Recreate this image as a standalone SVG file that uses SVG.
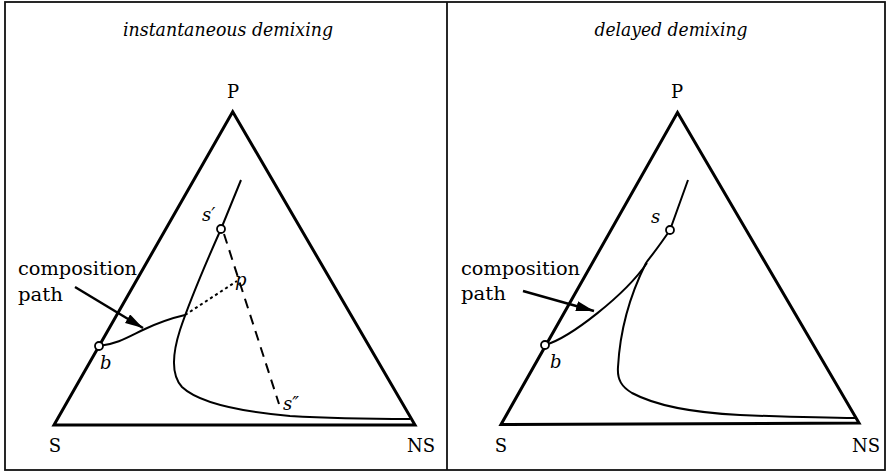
<svg xmlns="http://www.w3.org/2000/svg" width="887" height="473" viewBox="0 0 887 473">
<style>
.frame{fill:none;stroke:#111;stroke-width:1.8}
.tri{fill:none;stroke:#000;stroke-width:3;stroke-linejoin:miter}
.curve{fill:none;stroke:#000;stroke-width:2}
.pt{fill:#fff;stroke:#000;stroke-width:1.8}
.lab{font-family:"DejaVu Serif","Liberation Serif",serif;font-size:18px;fill:#000}
.it{font-family:"DejaVu Serif","Liberation Serif",serif;font-style:italic;font-size:18px;fill:#000}
.title{font-family:"DejaVu Serif","Liberation Serif",serif;font-style:italic;font-size:18px;fill:#000}
.arrow{fill:none;stroke:#000;stroke-width:2.5}
</style>
<defs>
<marker id="ah" markerUnits="userSpaceOnUse" markerWidth="20" markerHeight="12" refX="18" refY="5" orient="auto">
<path d="M0,0 L18,5 L0,10 Z" fill="#000"/>
</marker>
</defs>
<rect class="frame" x="5" y="2" width="880" height="468"/>
<line class="frame" x1="447" y1="2" x2="447" y2="470"/>

<g id="left-panel">
<text class="title" x="228" y="36" text-anchor="middle" textLength="210" lengthAdjust="spacingAndGlyphs">instantaneous demixing</text>
<g id="L-triangle">
<path class="tri" d="M54,425 L232.7,111.7 L415,425 Z"/>
<text class="lab" x="233" y="98" text-anchor="middle">P</text>
<text class="lab" x="55" y="452" text-anchor="middle">S</text>
<text class="lab" x="421" y="452" text-anchor="middle">NS</text>
</g>
<g id="L-binodal">
<path class="curve" d="M241,180 L221,229 C205,265 190,300 180,330 C172,355 171,375 182,387 C200,404 245,412 290,416 C340,419 380,419 410,419"/>
</g>
<g id="L-tieline">
<path class="curve" d="M185,315 L237,281" stroke-dasharray="3,3"/>
<path class="curve" d="M224,234 L279,404" stroke-dasharray="10,7"/>
<text class="it" x="235" y="286">p</text>
<text class="it" x="283" y="410">s″</text>
</g>
<g id="L-composition">
<path class="curve" d="M99,346 C118,344 130,336 145,329 C160,322 172,318 185,315"/>
<circle class="pt" cx="99" cy="346" r="4"/>
<circle class="pt" cx="221" cy="229" r="4"/>
<text class="it" x="100" y="369">b</text>
<text class="it" x="202" y="221">s′</text>
<text class="lab" x="18" y="275" textLength="119" lengthAdjust="spacingAndGlyphs">composition</text>
<text class="lab" x="18" y="301" textLength="45" lengthAdjust="spacingAndGlyphs">path</text>
</g>
</g>

<g id="right-panel">
<text class="title" x="671" y="36" text-anchor="middle" textLength="153" lengthAdjust="spacingAndGlyphs">delayed demixing</text>
<g id="R-triangle">
<path class="tri" d="M501,424.5 L677.5,112.5 L859,423 Z"/>
<text class="lab" x="677" y="98" text-anchor="middle">P</text>
<text class="lab" x="501" y="452" text-anchor="middle">S</text>
<text class="lab" x="866" y="452" text-anchor="middle">NS</text>
</g>
<g id="R-binodal">
<path class="curve" d="M688,180 L670,230 C660,245 652,255 646,263 C630,295 620,330 618,367 C617,380 622,387 632,393 C660,408 700,413 740,415 C790,417 830,418 856,418"/>
</g>
<g id="R-composition">
<path class="curve" d="M545,345 C570,338 625,295 647,263"/>
<circle class="pt" cx="545" cy="345" r="4"/>
<circle class="pt" cx="670" cy="230" r="4"/>
<text class="it" x="550" y="368">b</text>
<text class="it" x="651" y="223">s</text>
<text class="lab" x="461" y="275" textLength="119" lengthAdjust="spacingAndGlyphs">composition</text>
<text class="lab" x="461" y="300" textLength="45" lengthAdjust="spacingAndGlyphs">path</text>
</g>
</g>

<g id="connectors">
<line class="arrow" x1="75" y1="287" x2="143" y2="328" marker-end="url(#ah)"/>
<line class="arrow" x1="523" y1="291" x2="594" y2="311" marker-end="url(#ah)"/>
</g>
</svg>
